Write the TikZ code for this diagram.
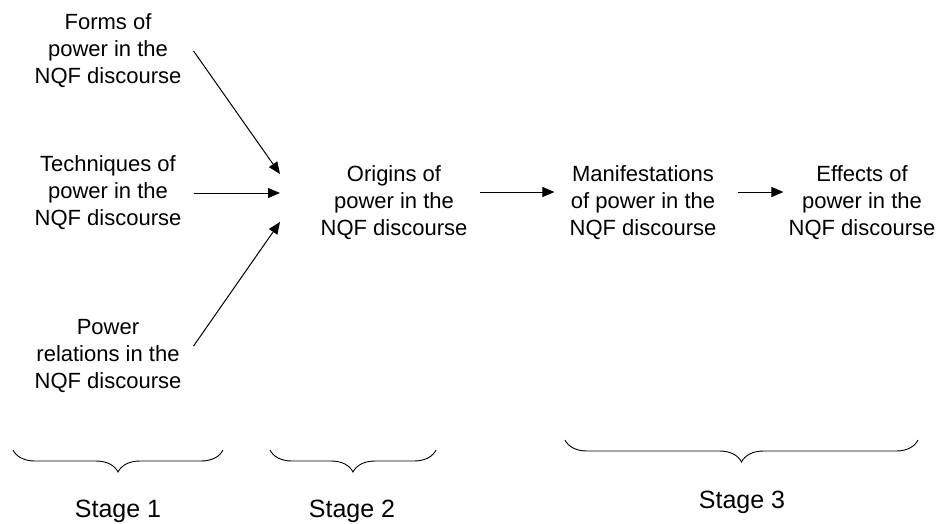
\documentclass[tikz,border=0pt]{standalone}
\usepackage{fontspec}
\setmainfont{Liberation Sans}
\usetikzlibrary{arrows.meta,calc,decorations.pathreplacing}
\begin{document}
\begin{tikzpicture}[x=1pt,y=-1pt,
  txt/.style={align=center,inner sep=0pt,font=\fontsize{22pt}{27pt}\selectfont},
  stg/.style={inner sep=0pt,font=\fontsize{25pt}{30pt}\selectfont},
  arr/.style={line width=1pt,-{Triangle[length=12pt,width=10pt]}},
  brc/.style={line width=0.9pt,decorate,decoration={brace,mirror,amplitude=22pt}}]
\useasboundingbox (0,0) rectangle (936,523);
\node[txt] (forms) at (108,51) {Forms of\\power in the\\NQF discourse};
\node[txt] (tech) at (108,193) {Techniques of\\power in the\\NQF discourse};
\node[txt] (rel) at (108,356) {Power\\relations in the\\NQF discourse};
\node[txt] (orig) at (394,203) {Origins of\\power in the\\NQF discourse};
\node[txt] (manif) at (643,203) {Manifestations\\of power in the\\NQF discourse};
\node[txt] (eff) at (862,203) {Effects of\\power in the\\NQF discourse};
\coordinate (e1) at (280,174);
\coordinate (e2) at (280,193);
\coordinate (e3) at (280,222);
\draw[arr] ($(forms.east)+(12,0)$) -- (e1);
\draw[arr] ($(tech.east)+(12,0)$) -- (e2);
\draw[arr] ($(rel.east)+(12,-10)$) -- (e3);
\draw[arr] ($(orig.east)+(12,-11)$) -- ($(manif.west)+(-15,-11)$);
\draw[arr] ($(manif.east)+(21,-11)$) -- ($(eff.west)+(-5,-11)$);
\coordinate (b1l) at (13,450); \coordinate (b1r) at (223,450);
\coordinate (b2l) at (270,450); \coordinate (b2r) at (436,450);
\coordinate (b3l) at (565,440); \coordinate (b3r) at (918,440);
\draw[brc] (b1l) -- (b1r);
\draw[brc] (b2l) -- (b2r);
\draw[brc] (b3l) -- (b3r);
\node[stg] (s1) at (118,511) {Stage 1};
\node[stg] (s2) at (352,511) {Stage 2};
\node[stg] (s3) at (742,502) {Stage 3};
\end{tikzpicture}
\end{document}
